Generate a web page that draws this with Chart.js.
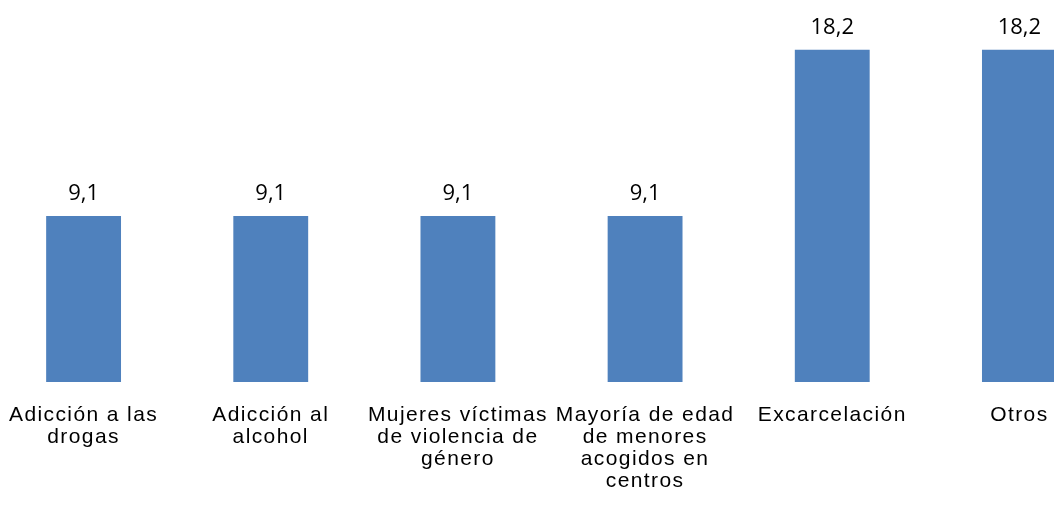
<!DOCTYPE html>
<html>
<head>
<meta charset="utf-8">
<script src="https://cdn.jsdelivr.net/npm/chart.js@4/dist/chart.umd.min.js"></script>
<style>
  html, body { margin: 0; padding: 0; background: #ffffff; overflow: hidden; width: 1054px; height: 506px; }
  #c { position: absolute; left: -10px; top: 0; }
</style>
</head>
<body>
<canvas id="c" width="1123" height="506"></canvas>
<script>
const categories = [
  ["Adicción a las", "drogas"],
  ["Adicción al", "alcohol"],
  ["Mujeres víctimas", "de violencia de", "género"],
  ["Mayoría de edad", "de menores", "acogidos en", "centros"],
  ["Excarcelación"],
  ["Otros"]
];
const values = [9.1, 9.1, 9.1, 9.1, 18.2, 18.2];

const fmt = v => v.toFixed(1).replace('.', ',');

const spacingPlugin = {
  id: 'spacing',
  beforeDraw(chart) { chart.ctx.letterSpacing = '1.4px'; },
  afterDatasetsDraw(chart) {
    const ctx = chart.ctx;
    ctx.save();
    ctx.letterSpacing = '0px';
    ctx.font = '22px "Open Sans"';
    ctx.fillStyle = '#000000';
    ctx.textAlign = 'center';
    ctx.textBaseline = 'alphabetic';
    const meta = chart.getDatasetMeta(0);
    meta.data.forEach((bar, i) => {
      ctx.fillText(fmt(values[i]), bar.x, bar.y - 15.5);
    });
    ctx.restore();
  },
  afterDraw(chart) { chart.ctx.letterSpacing = '0px'; }
};

new Chart(document.getElementById('c'), {
  type: 'bar',
  data: {
    labels: categories,
    datasets: [{
      data: values,
      backgroundColor: '#4F81BD',
      borderWidth: 0,
      categoryPercentage: 0.4,
      barPercentage: 1.0
    }]
  },
  options: {
    responsive: false,
    animation: false,
    devicePixelRatio: 1,
    layout: { padding: { top: 17, left: 0, right: 0, bottom: 0 } },
    plugins: { legend: { display: false }, tooltip: { enabled: false } },
    scales: {
      x: {
        grid: { display: false, drawTicks: false },
        border: { display: false },
        ticks: {
          color: '#000000',
          font: { family: '"Liberation Sans", Arial, sans-serif', size: 21, lineHeight: 22 / 21 },
          padding: 22,
          maxRotation: 0,
          autoSkip: false
        },
        afterFit(scale) { scale.height = 124; }
      },
      y: {
        display: false,
        min: 0,
        max: 20
      }
    }
  },
  plugins: [spacingPlugin]
});
</script>
</body>
</html>
